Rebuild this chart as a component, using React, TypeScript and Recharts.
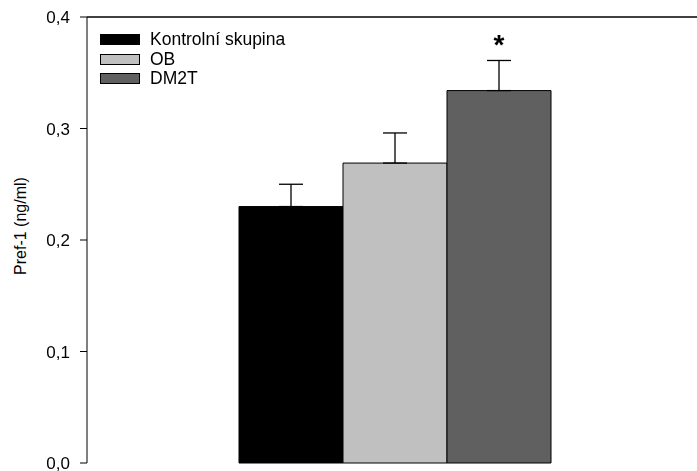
import { Bar, BarChart, ErrorBar, LabelList, ReferenceLine, XAxis, YAxis } from 'recharts'

const groups = ['Kontrolní skupina', 'OB', 'DM2T']
const colors = ['#000000', '#c0c0c0', '#606060']
const means = [0.23, 0.269, 0.334]
const sems = [0.02, 0.027, 0.027]
const yTicks = [0, 0.1, 0.2, 0.3, 0.4]

const keys = ['k', 'ob', 'dm']

const row: Record<string, any> = { name: 'Pref-1' }
keys.forEach((k, i) => {
  row[k] = means[i]
  row[k + 'Err'] = [0, sems[i]]
})
row.sig = '*'
const data = [row]

const font = 'Arial, "Liberation Sans", sans-serif'

function LegendBox() {
  return (
    <div style={{ position: 'absolute', left: 100, top: 30, fontFamily: font, fontSize: 17.5, color: '#000' }}>
      {groups.map((g, i) => (
        <div key={g} style={{ display: 'flex', alignItems: 'center', height: 19.5 }}>
          <span
            style={{
              display: 'inline-block',
              width: 38,
              height: 9,
              background: colors[i],
              border: '1px solid #000',
              marginRight: 10,
            }}
          />
          <span>{g}</span>
        </div>
      ))}
    </div>
  )
}

function Star(props: any) {
  const { x, width, y } = props
  return (
    <text
      x={x + width / 2}
      y={y - 37}
      textAnchor="middle"
      fontFamily={font}
      fontWeight="bold"
      fontSize={28}
      fill="#000"
    >
      *
    </text>
  )
}

function YTitle() {
  return (
    <text
      x={26}
      y={226}
      transform="rotate(-90, 26, 226)"
      textAnchor="middle"
      fontFamily={font}
      fontSize={16}
      fill="#000"
    >
      Pref-1 (ng/ml)
    </text>
  )
}

export default function App() {
  return (
    <div style={{ position: 'fixed', left: 0, top: 0, background: '#fff', width: 697, height: 471 }}>
      <BarChart
        width={704}
        height={471}
        data={data}
        margin={{ top: 17, right: 0, bottom: 8, left: 0 }}
        barGap={0}
        barCategoryGap={152}
      >
        <XAxis dataKey="name" tick={false} tickLine={false} axisLine={{ stroke: '#000' }} height={0} />
        <YAxis
          width={87}
          domain={[0, 0.4]}
          ticks={yTicks}
          interval={0}
          tickSize={7}
          tickMargin={10}
          axisLine={{ stroke: '#000' }}
          tickLine={{ stroke: '#000' }}
          tick={{ fill: '#000', fontSize: 17, fontFamily: font }}
          tickFormatter={(v: number) => v.toFixed(1).replace('.', ',')}
        />
        <ReferenceLine y={0.4} stroke="#000" strokeWidth={1.5} />
        {keys.map((k, i) => (
          <Bar
            key={k}
            dataKey={k}
            name={groups[i]}
            fill={colors[i]}
            stroke="#000"
            strokeWidth={1}
            isAnimationActive={false}
          >
            <ErrorBar dataKey={k + 'Err'} width={12} stroke="#000" strokeWidth={1.3} direction="y" />
            {k === 'dm' && <LabelList dataKey="sig" content={(p: any) => <Star {...p} />} />}
          </Bar>
        ))}
        <YTitle />
      </BarChart>
      <LegendBox />
    </div>
  )
}
